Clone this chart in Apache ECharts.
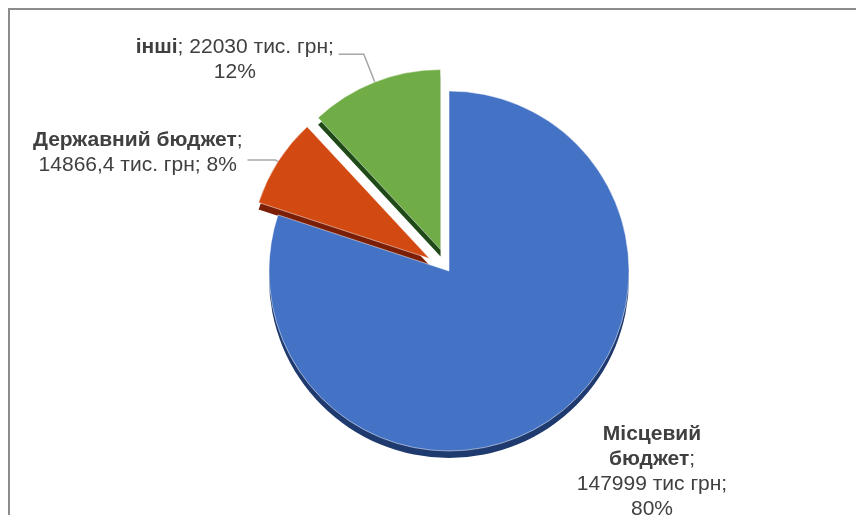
<!DOCTYPE html>
<html>
<head>
<meta charset="utf-8">
<script src="https://cdn.jsdelivr.net/npm/echarts@6/dist/echarts.min.js"></script>
<style>
html,body{margin:0;padding:0;background:#fff;}
#c{width:856px;height:515px;}
</style>
</head>
<body>
<div id="c"></div>
<script>
// Data
var categories = ['Місцевий бюджет', 'Державний бюджет', 'інші'];
var values = [147999, 14866.4, 22030];
var units = ['тис грн', 'тис. грн', 'тис. грн'];

// Styling
var colors = ['#4472C4', '#D24A12', '#70AD47'];
var darkColors = ['#1F3A6E', '#7A1E06', '#1F4A17'];
var lineLen = [[0, 0], [3, 28], [30, 25]];
var labelDy = [0, -7, 6];

function fmtNum(v) { return String(v).replace('.', ','); }

function labelText(p) {
  var i = p.dataIndex;
  var pct = Math.round(p.percent) + '%';
  var num = fmtNum(values[i]) + ' ' + units[i] + ';';
  var words = categories[i].split(' ');
  if (i === 0) {
    return '{b|' + words[0] + '}\n{b|' + words[1] + '}{n|;}\n{n|' + num + '}\n{n|' + pct + '}';
  } else if (i === 1) {
    return '{b|' + categories[i] + '}{n|;}\n{n|' + num + ' ' + pct + '}';
  }
  return '{b|' + categories[i] + '}{n|; ' + num + '}\n{n|' + pct + '}';
}

var mainData = categories.map(function (n, i) {
  return {
    name: n, value: values[i], selected: i !== 0,
    itemStyle: { color: colors[i] },
    labelLine: { show: i !== 0, length: lineLen[i][0], length2: lineLen[i][1] }
  };
});
var shadowData = categories.map(function (n, i) {
  return { name: n, value: values[i], selected: i !== 0, itemStyle: { color: darkColors[i] } };
});

var FONT = 'Liberation Sans, Arial, sans-serif';
var chart = echarts.init(document.getElementById('c'));
chart.setOption({
  animation: false,
  backgroundColor: '#fff',
  graphic: [{
    type: 'rect', shape: { x: 9, y: 9, width: 900, height: 600 },
    style: { fill: 'none', stroke: '#8c8c8c', lineWidth: 2 }, silent: true
  }],
  series: [{
    type: 'pie', silent: true, z: 1,
    center: [449, 278], radius: 180, startAngle: 90, clockwise: true,
    selectedMode: 'multiple', selectedOffset: 23,
    label: { show: false }, labelLine: { show: false },
    itemStyle: { borderWidth: 0 },
    emphasis: { disabled: true },
    data: shadowData
  }, {
    type: 'pie', z: 2,
    center: [449, 271], radius: 180, startAngle: 90, clockwise: true,
    selectedMode: 'multiple', selectedOffset: 23,
    avoidLabelOverlap: false,
    itemStyle: { borderWidth: 1, borderColor: 'rgba(255,255,255,0.5)' },
    emphasis: { disabled: true },
    label: {
      show: true, position: 'outside',
      formatter: labelText,
      color: '#404040', fontSize: 21, lineHeight: 25,
      fontFamily: FONT,
      rich: {
        b: { fontWeight: 'bold', fontSize: 21, lineHeight: 25, color: '#404040', fontFamily: FONT, align: 'center' },
        n: { fontSize: 21, lineHeight: 25, color: '#404040', fontFamily: FONT, align: 'center' }
      }
    },
    labelLine: { show: true, lineStyle: { color: '#a6a6a6', width: 1.5 } },
    labelLayout: function (p) {
      if (p.dataIndex === 0) {
        return { x: 652, y: 472, align: 'center', verticalAlign: 'middle' };
      }
      return { dy: labelDy[p.dataIndex] };
    },
    data: mainData
  }]
});
</script>
</body>
</html>
